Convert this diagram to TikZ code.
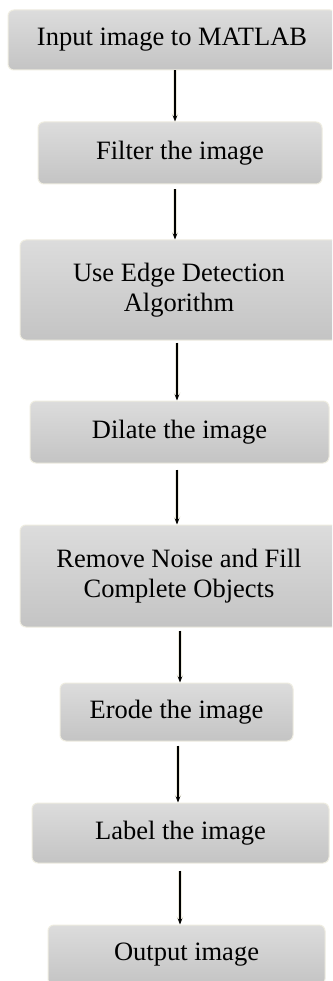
\documentclass[tikz,border=0pt]{standalone}
\usepackage{fontspec}
\setmainfont{Liberation Serif}
\usetikzlibrary{arrows.meta}
\definecolor{boxtop}{RGB}{220,220,220}
\definecolor{boxbot}{RGB}{196,196,196}
\definecolor{rim}{RGB}{238,236,224}
\definecolor{halo}{RGB}{236,234,222}
\tikzset{
  stepbox/.style={draw=rim, line width=1pt, rounded corners=6pt,
    top color=boxtop, bottom color=boxbot, inner sep=0pt, align=center,
    font=\fontsize{26.5}{30.5}\selectfont, text=black},
  arr/.style={-{Stealth[length=6pt,width=4.5pt]}, line width=1.3pt, black,
    preaction={draw=halo, line width=3.5pt, -{Stealth[length=8pt,width=7pt]}}}
}
\begin{document}
\begin{tikzpicture}[x=1pt,y=1pt]
\clip (0,0) rectangle (332,-981);
\fill[white] (0,0) rectangle (332,-981);
\node[stepbox, minimum width=328pt, minimum height=60pt] (n1) at (172,-40) {Input image to MATLAB};
\node[stepbox, minimum width=284pt, minimum height=62pt] (n2) at (180,-153) {Filter the image};
\node[stepbox, minimum width=318pt, minimum height=100pt] (n3) at (179,-290) {Use Edge Detection\\Algorithm};
\node[stepbox, minimum width=299pt, minimum height=62pt] (n4) at (179.5,-432) {Dilate the image};
\node[stepbox, minimum width=318pt, minimum height=102pt] (n5) at (179,-576) {Remove Noise and Fill\\Complete Objects};
\node[stepbox, minimum width=233pt, minimum height=58pt] (n6) at (176.5,-712) {Erode the image};
\node[stepbox, minimum width=297pt, minimum height=60pt] (n7) at (180.5,-833) {Label the image};
\node[stepbox, minimum width=277pt, minimum height=60pt] (n8) at (186.5,-955) {Output image};
\draw[arr] ([xshift=3pt]n1.south) -- ([xshift=-5pt]n2.north);
\draw[arr] ([xshift=-5pt,yshift=-5pt]n2.south) -- ([xshift=-4pt]n3.north);
\draw[arr] ([xshift=-2pt,yshift=-2pt]n3.south) -- ([xshift=-2.5pt]n4.north);
\draw[arr] ([xshift=-2.5pt,yshift=-6pt]n4.south) -- ([xshift=-2pt]n5.north);
\draw[arr] ([xshift=1pt,yshift=-3pt]n5.south) -- ([xshift=3.5pt]n6.north);
\draw[arr] ([xshift=1.5pt,yshift=-4pt]n6.south) -- ([xshift=-2.5pt]n7.north);
\draw[arr] ([xshift=-0.5pt,yshift=-7pt]n7.south) -- ([xshift=-6.5pt]n8.north);
\end{tikzpicture}
\end{document}
